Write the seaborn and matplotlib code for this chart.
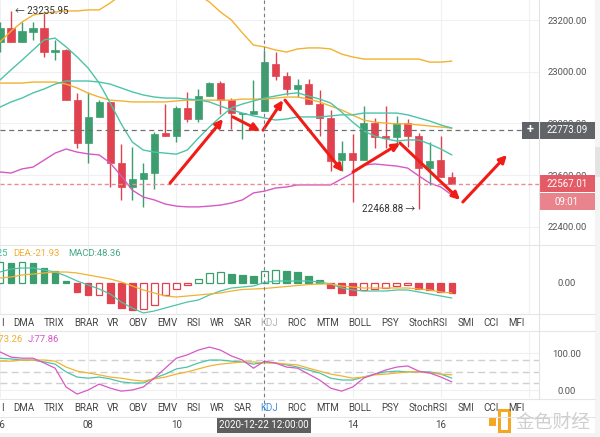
import numpy as np
import pandas as pd
import matplotlib
matplotlib.use("Agg")
import matplotlib.pyplot as plt
import seaborn as sns
from matplotlib.patches import Rectangle

sns.set_theme(style="white")
plt.rcParams["font.family"] = ["Roboto", "Noto Sans CJK SC", "DejaVu Sans"]

# ---------------- data ----------------
opens = [23115, 23169, 23115, 23154, 23169, 23076, 23084, 22890, 22724, 22825, 22883, 22647, 22554, 22585,
         22608, 22763, 22751, 22859, 22817, 22906, 22956, 22890, 22836, 22836, 22848, 23030, 22983, 22933,
         22952, 22875, 22821, 22658, 22685, 22658, 22801, 22751, 22747, 22801, 22751, 22627, 22658, 22592]
highs = [23192, 23235.95, 23192, 23192, 23228, 23123, 23088, 22917, 22921, 22890, 22883, 22720, 22709, 22647,
         22767, 22875, 22867, 22921, 22933, 22960, 22964, 22898, 22840, 22968, 23084, 23076, 22999, 22972,
         22972, 22929, 22852, 22732, 22759, 22867, 22821, 22867, 22828, 22817, 22763, 22728, 22751, 22612]
lows = [23076, 23115, 23115, 23123, 23057, 23045, 22890, 22705, 22647, 22825, 22554, 22503, 22503, 22476,
        22546, 22751, 22728, 22805, 22805, 22906, 22836, 22778, 22739, 22836, 22848, 22968, 22910, 22902,
        22875, 22751, 22616, 22616, 22496, 22658, 22705, 22705, 22709, 22709, 22468.88, 22561, 22592, 22569]
closes = [23169, 23115, 23157, 23169, 23076, 23084, 22890, 22724, 22825, 22883, 22647, 22554, 22585, 22608,
          22759, 22751, 22859, 22817, 22906, 22956, 22890, 22840, 22840, 22848, 23037, 22983, 22933, 22948,
          22875, 22821, 22654, 22685, 22658, 22801, 22747, 22743, 22801, 22751, 22627, 22654, 22592, 22567.01]

boll_upper = [23115, 23157, 23192, 23219, 23227, 23231, 23235, 23235, 23239, 23239, 23266, 23297, 23324, 23343,
              23355, 23355, 23343, 23324, 23297, 23270, 23231, 23200, 23150, 23103, 23096, 23084, 23076, 23088,
              23092, 23092, 23088, 23068, 23057, 23049, 23049, 23049, 23049, 23049, 23049, 23037, 23037, 23041]
boll_mid = [22956, 22956, 22956, 22960, 22960, 22960, 22952, 22937, 22917, 22902, 22890, 22887, 22883, 22883,
            22883, 22883, 22887, 22890, 22890, 22890, 22890, 22890, 22894, 22894, 22894, 22898, 22902, 22902,
            22894, 22883, 22867, 22852, 22832, 22813, 22805, 22801, 22798, 22798, 22794, 22790, 22786, 22782]
boll_lower = [22612, 22608, 22624, 22631, 22658, 22685, 22701, 22689, 22682, 22678, 22647, 22597, 22542, 22515,
              22504, 22488, 22480, 22477, 22477, 22480, 22484, 22492, 22504, 22531, 22538, 22550, 22554, 22562,
              22562, 22562, 22562, 22585, 22608, 22639, 22643, 22639, 22635, 22627, 22597, 22569, 22554, 22523]
ma_fast = [22968, 23007, 23045, 23084, 23123, 23130, 23096, 23057, 23014, 22956, 22879, 22798, 22728, 22697,
           22689, 22685, 22681, 22697, 22743, 22786, 22825, 22860, 22875, 22887, 22898, 22906, 22914, 22918,
           22906, 22894, 22879, 22844, 22805, 22771, 22751, 22740, 22732, 22736, 22736, 22720, 22701, 22678]
ma_slow = [22863, 22883, 22898, 22918, 22933, 22952, 22964, 22964, 22964, 22960, 22952, 22937, 22922, 22910,
           22902, 22898, 22898, 22894, 22891, 22883, 22867, 22852, 22840, 22829, 22821, 22813, 22817, 22825,
           22825, 22825, 22829, 22833, 22833, 22840, 22840, 22840, 22840, 22833, 22821, 22809, 22794, 22782]

macd_hist = [84, 82, 84, 80, 60, 48, 8, -36, -48, -46, -80, -100, -108, -104, -88, -48, -24, -8, 16, 40, 44,
             36, 32, 28, 48.36, 52, 48, 44, 28, 12, -20, -40, -48, -26, -24, -20, -12, -8, -24, -28, -36, -40]
macd_dif = [44, 56, 60, 60, 52, 44, 28, 8, -8, -24, -44, -76, -100, -120, -112, -100, -88, -76, -68, -48, -32,
            -20, -16, -12, 2.25, 8, 8, 8, 8, 4, -4, -20, -28, -32, -32, -32, -28, -28, -36, -44, -52, -60]
macd_dea = [20, 24, 32, 36, 40, 44, 44, 40, 32, 24, 16, 4, -12, -28, -40, -52, -56, -52, -48, -44, -40, -32,
            -26, -24, -21.93, -18, -14, -10, -6, -4, -4, -12, -16, -20, -20, -20, -20, -20, -24, -28, -36, -40]

kdj_k = [86, 84, 81, 81, 76, 70, 49, 35, 32, 35, 30, 22, 19, 19, 32, 43, 57, 62, 73, 81, 81, 78, 76, 70, 74.79,
         73, 68, 62, 54, 46, 32, 27, 27, 35, 43, 49, 51, 49, 49, 49, 43, 32]
kdj_d = [78, 78, 81, 81, 81, 78, 62, 51, 46, 41, 35, 32, 27, 24, 30, 35, 43, 49, 57, 65, 70, 73, 76, 76, 73.26,
         73, 70, 68, 59, 51, 43, 38, 32, 35, 41, 43, 46, 49, 49, 46, 43, 41]
kdj_j = [103, 89, 86, 86, 73, 59, 8, -11, 0, 16, 5, -3, 0, 8, 32, 59, 86, 95, 108, 116, 108, 92, 81, 59, 77.86,
         73, 62, 59, 43, 27, 5, -3, 8, 32, 43, 54, 62, 65, 51, 46, 35, 22]

price_ticks = [22400, 22600, 22800, 23000, 23200]
high_label = 23235.95
low_label = 22468.88
last_price = 22567.01
cross_price = 22773.09
cross_index = 24
countdown = "09:01"
cross_time = "2020-12-22 12:00:00"
date_labels = ["06", "08", "10", "14", "16"]
date_index = [0, 8, 16, 32, 40]
tab_names = ["I", "DMA", "TRIX", "BRAR", "VR", "OBV", "EMV", "RSI", "WR", "SAR", "KDJ", "ROC", "MTM",
             "BOLL", "PSY", "StochRSI", "SMI", "CCI", "MFI"]
macd_legend = ["DIF:2.25", "DEA:-21.93", "MACD:48.36"]
kdj_legend = ["D:73.26", "J:77.86"]
# trend arrows drawn by the author (index, price)
arrows = [((15.43, 22569), (20.24, 22817)), ((21.14, 22825), (23.6, 22771)),
          ((23.87, 22774), (25.68, 22890)), ((25.86, 22890), (31.13, 22612)),
          ((32.03, 22612), (36.3, 22724)), ((36.3, 22724), (41.74, 22504)),
          ((42.0, 22496), (46.0, 22678))]

# ---------------- layout ----------------
W, H = 600, 437
PX = 11.02                     # pixels per candle
S = 200 / 51.7                 # price units per pixel
GREEN, RED = "#3c9e6f", "#e0434f"
TEAL, ORANGE, MAGENTA = "#4cc4a8", "#f2b231", "#d659c6"
GRID = "#eef0f3"

fig = plt.figure(figsize=(6, 4.37), dpi=100)
fig.patch.set_facecolor("white")


def fa(x0, y0, x1, y1):
    return [x0 / W, 1 - y1 / H, (x1 - x0) / W, (y1 - y0) / H]


ax = fig.add_axes(fa(0, 0, 539, 245))
axm = fig.add_axes(fa(0, 245, 539, 314))
axk = fig.add_axes(fa(0, 331, 539, 398))
ov = fig.add_axes([0, 0, 1, 1])
ov.set_xlim(0, W)
ov.set_ylim(H, 0)
ov.axis("off")
ov.set_zorder(10)
ov.patch.set_alpha(0)

idx = np.arange(len(opens))
xlim = (0, 539 / PX)


def lines(axis, series, palette, lw=1.0):
    long = pd.DataFrame({
        "i": np.tile(idx, len(series)),
        "v": np.concatenate([np.asarray(v, float) for v in series.values()]),
        "s": np.repeat(list(series.keys()), len(idx)),
    })
    sns.lineplot(data=long, x="i", y="v", hue="s", palette=palette, legend=False,
                 ax=axis, lw=lw, estimator=None, sort=False, zorder=5)
    axis.set_xlabel("")
    axis.set_ylabel("")


# ---------------- main candles ----------------
df = pd.DataFrame(dict(i=idx, o=opens, h=highs, l=lows, c=closes))
up = df.c >= df.o
cols = np.where(up, GREEN, RED)
ax.vlines(df.i, df.l, df.h, colors=cols, lw=1.0, zorder=3)
bottom = np.minimum(df.o, df.c)
height = np.maximum(np.abs(df.c - df.o), 5)
ax.bar(df.i, height, bottom=bottom, width=0.66, color=cols, edgecolor=cols, lw=0.5, zorder=4)

lines(ax, {"up": boll_upper, "mid": boll_mid, "low": boll_lower, "fast": ma_fast, "slow": ma_slow},
      {"up": ORANGE, "mid": ORANGE, "low": MAGENTA, "fast": TEAL, "slow": TEAL}, lw=1.0)

ax.set_xlim(*xlim)
ax.set_ylim(23200 - 225 * S, 23200 + 20 * S)
ax.set_xticks(np.arange(0, 49, 8))
ax.set_yticks(price_ticks)
ax.set_yticklabels([f"{p:.2f}" for p in price_ticks])
ax.yaxis.tick_right()
ax.tick_params(axis="y", length=0, pad=20.2, labelsize=6.8, labelcolor="#555555")
ax.tick_params(axis="x", length=0, labelbottom=False)
plt.setp(ax.get_yticklabels(), ha="center")
ax.grid(True, color=GRID, lw=0.8)
for sp in ax.spines.values():
    sp.set_visible(False)

ax.axhline(cross_price, xmax=522 / 539, color="#707070", lw=0.9, dashes=(4, 3), zorder=6)
ax.axhline(last_price, color="#ec8a96", lw=1.0, dashes=(3, 2), zorder=6)

for (x0, y0), (x1, y1) in arrows:
    ax.annotate("", xy=(x1, y1), xytext=(x0, y0),
                arrowprops=dict(arrowstyle="-|>", color="#f01d16", lw=2.2, mutation_scale=11,
                                shrinkA=0, shrinkB=0), zorder=8, annotation_clip=False)

ax.text(1.35, high_label, f"\u2190 {high_label:.2f}", fontsize=7, color="#333333", va="center", ha="left",
        zorder=9)
ax.text(37.7, low_label, f"{low_label:.2f} \u2192", fontsize=7, color="#333333", va="center", ha="right",
        zorder=9)

# ---------------- MACD ----------------
hist = np.asarray(macd_hist, float)
hollow = np.r_[True, np.diff(hist) > 0]
hcol = np.where(hist >= 0, GREEN, RED)
face = np.where(hollow, "white", hcol)
axm.bar(idx, hist, width=0.6, color=face, edgecolor=hcol, lw=0.9, zorder=3)
lines(axm, {"DIF": macd_dif, "DEA": macd_dea}, {"DIF": TEAL, "DEA": ORANGE}, lw=0.9)
axm.set_xlim(*xlim)
axm.set_ylim(-124, 152)
axm.set_xticks(np.arange(0, 49, 8))
axm.set_yticks([0])
axm.set_yticklabels(["0.00"])
axm.yaxis.tick_right()
axm.tick_params(axis="y", length=0, pad=20.2, labelsize=6.8, labelcolor="#555555")
axm.tick_params(axis="x", length=0, labelbottom=False)
plt.setp(axm.get_yticklabels(), ha="center")
axm.grid(True, axis="x", color=GRID, lw=0.8)
for sp in axm.spines.values():
    sp.set_visible(False)

# ---------------- KDJ ----------------
lines(axk, {"K": kdj_k, "D": kdj_d, "J": kdj_j}, {"K": TEAL, "D": ORANGE, "J": MAGENTA}, lw=0.9)
for lvl in (20, 50, 80):
    axk.axhline(lvl, color="#d0d0d0", lw=1.0, dashes=(5, 3), zorder=1)
axk.set_xlim(*xlim)
axk.set_ylim(-21.6, 159.5)
axk.set_xticks(np.arange(0, 49, 8))
axk.set_yticks([0, 100])
axk.set_yticklabels(["0.00", "100.00"])
axk.yaxis.tick_right()
axk.tick_params(axis="y", length=0, pad=20.2, labelsize=6.8, labelcolor="#555555")
axk.tick_params(axis="x", length=0, labelbottom=False)
plt.setp(axk.get_yticklabels(), ha="center")
axk.grid(True, color=GRID, lw=0.8)
for sp in axk.spines.values():
    sp.set_visible(False)

# ---------------- overlay (chrome) ----------------
for y in (245, 314, 331, 399, 417):
    ov.plot([0, 595], [y, y], color="#e6e6e6", lw=0.8)
ov.plot([539, 539], [0, 399], color="#e3e3e3", lw=0.8)
ov.plot([cross_index * PX] * 2, [0, 417], color="#7a7a7a", lw=0.8, dashes=(3, 3))
ov.add_patch(Rectangle((595, 0), 5, H, color="#f4f4f4", lw=0))
ov.add_patch(Rectangle((595, 147), 5, 30, color="#e4e4e4", lw=0))
ov.add_patch(Rectangle((0, 433), W, 4, color="#f3f3f3", lw=0))

# price boxes
ov.add_patch(Rectangle((522, 122), 16.5, 16.5, color="#5f6266", lw=0))
ov.text(530.2, 130, "+", color="white", fontsize=9, ha="center", va="center", fontweight="bold")
ov.add_patch(Rectangle((539, 122), 56, 16.5, color="#616366", lw=0))
ov.text(567, 130.3, f"{cross_price:.2f}", color="white", fontsize=7, ha="center", va="center")
ov.add_patch(Rectangle((539, 175), 56, 17, color="#e35b67", lw=0))
ov.text(567, 183.6, f"{last_price:.2f}", color="white", fontsize=7, ha="center", va="center")
ov.add_patch(Rectangle((539, 193), 56, 17, color="#e9838c", lw=0))
ov.text(567, 201.6, countdown, color="white", fontsize=7, ha="center", va="center")

# legends
ov.text(7.5, 254, macd_legend[0], color="#3bb89a", fontsize=6.8, ha="right", va="center")
ov.text(13, 254, macd_legend[1], color="#f0ae33", fontsize=6.8, ha="left", va="center")
ov.text(68, 254, macd_legend[2], color="#45a884", fontsize=6.8, ha="left", va="center")
ov.text(22.5, 339, kdj_legend[0], color="#f0ae33", fontsize=6.8, ha="right", va="center")
ov.text(28, 339, kdj_legend[1], color="#d156c5", fontsize=6.8, ha="left", va="center")

# indicator tabs
tab_x = [2, 23.5, 54, 86, 113, 138, 167, 193, 217, 243, 269.5, 297, 328, 360, 390, 428, 466, 491, 516]
for name, x in zip(tab_names, tab_x):
    ov.text(x, 322.5, name, fontsize=7, ha="center", va="center",
            color="#b3b3b3" if name == "KDJ" else "#444444")
    ov.text(x, 408, name, fontsize=7, ha="center", va="center",
            color="#3f8fdc" if name == "KDJ" else "#444444")

# date axis
for lab, i in zip(date_labels, date_index):
    ov.text(i * PX, 425, lab, fontsize=7, ha="center", va="center", color="#444444")
ov.add_patch(Rectangle((217, 417), 94, 16, color="#5e5e5e", lw=0))
ov.text(264, 425, cross_time, color="white", fontsize=7, ha="center", va="center")

# watermark
ov.add_patch(Rectangle((489, 418), 7, 8, color="#f5a623", lw=0))
ov.add_patch(Rectangle((499, 410), 10, 21, facecolor="none", edgecolor="#f5a623", lw=2.2))
ov.text(553, 422, "金色财经", fontsize=13.5, color="#cfcfcf", ha="center", va="center",
        family=["Noto Sans CJK SC", "DejaVu Sans"])

fig.savefig("out.png", dpi=100, facecolor="white")
